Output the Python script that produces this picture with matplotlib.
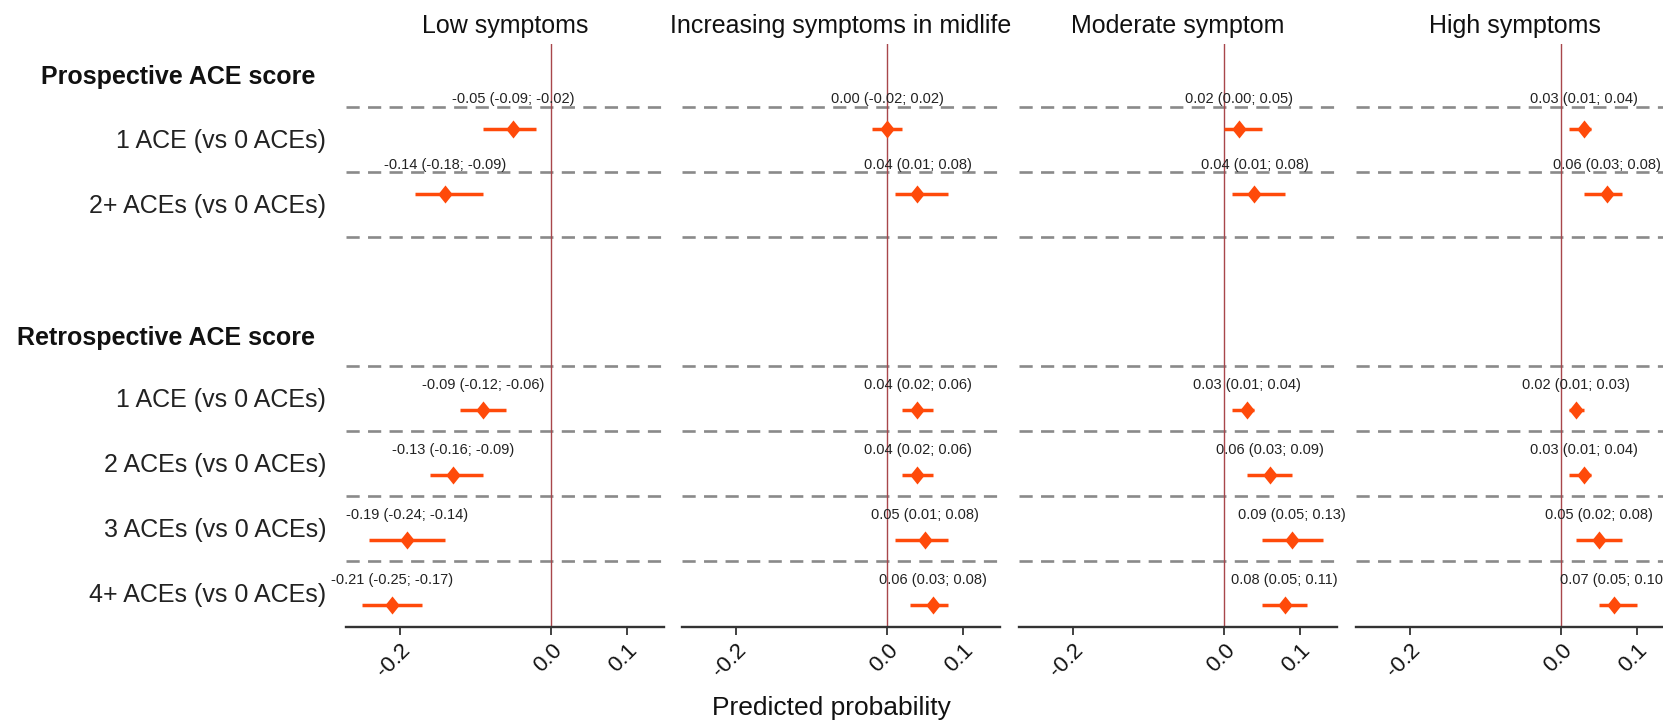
import matplotlib
matplotlib.use("Agg")
import matplotlib.pyplot as plt
from matplotlib.path import Path

plt.rcParams['font.family'] = ['Liberation Sans', 'DejaVu Sans']
plt.rcParams['lines.scale_dashes'] = False

# ---------------- data ----------------
panels = ["Low symptoms", "Increasing symptoms in midlife", "Moderate symptom", "High symptoms"]
pro_heading = "Prospective ACE score"
retro_heading = "Retrospective ACE score"
pro_labels = ["1 ACE (vs 0 ACEs)", "2+ ACEs (vs 0 ACEs)"]
retro_labels = ["1 ACE (vs 0 ACEs)", "2 ACEs (vs 0 ACEs)", "3 ACEs (vs 0 ACEs)", "4+ ACEs (vs 0 ACEs)"]

pro_est = [[-0.05, -0.14], [0.00, 0.04], [0.02, 0.04], [0.03, 0.06]]
pro_lo = [[-0.09, -0.18], [-0.02, 0.01], [0.00, 0.01], [0.01, 0.03]]
pro_hi = [[-0.02, -0.09], [0.02, 0.08], [0.05, 0.08], [0.04, 0.08]]

retro_est = [[-0.09, -0.13, -0.19, -0.21], [0.04, 0.04, 0.05, 0.06],
             [0.03, 0.06, 0.09, 0.08], [0.02, 0.03, 0.05, 0.07]]
retro_lo = [[-0.12, -0.16, -0.24, -0.25], [0.02, 0.02, 0.01, 0.03],
            [0.01, 0.03, 0.05, 0.05], [0.01, 0.01, 0.02, 0.05]]
retro_hi = [[-0.06, -0.09, -0.14, -0.17], [0.06, 0.06, 0.08, 0.08],
            [0.04, 0.09, 0.13, 0.11], [0.03, 0.04, 0.08, 0.10]]

xticks = [-0.2, 0.0, 0.1]
xtick_labels = ["-0.2", "0.0", "0.1"]
xlabel = "Predicted probability"

# ---------------- layout (pixels) ----------------
W, H, DPI = 1663, 723, 100
fig = plt.figure(figsize=(W / DPI, H / DPI), dpi=DPI)

AX_TOP, AX_BOT = 44, 627
PANEL_LEFT = [346, 682, 1019, 1356]
PANEL_W = 318
ROW = 65.0
PRO_DASH0 = 107
RETRO_DASH0 = 366

ORANGE = "#ff4a0a"
GREY = "#8a8a8a"
RED = "#a8464b"
DARK = "#333333"

diamond = Path([(0, 1), (0.8, 0), (0, -1), (-0.8, 0), (0, 1)],
               [Path.MOVETO, Path.LINETO, Path.LINETO, Path.LINETO, Path.CLOSEPOLY])


def fy(y):
    return 1 - y / H


def fx(x):
    return x / W


def fmt(e, lo, hi):
    return f"{e:.2f} ({lo:.2f}; {hi:.2f})"


pro_dash = [PRO_DASH0 + ROW * i for i in range(len(pro_labels) + 1)]
retro_dash = [RETRO_DASH0 + ROW * i for i in range(len(retro_labels))]

for p, title in enumerate(panels):
    left = PANEL_LEFT[p]
    ax = fig.add_axes([fx(left), fy(AX_BOT), PANEL_W / W, (AX_BOT - AX_TOP) / H])
    ax.set_xlim(-0.271, 0.149)
    ax.set_ylim(AX_BOT, AX_TOP)
    for s in ["top", "left", "right"]:
        ax.spines[s].set_visible(False)
    ax.spines["bottom"].set_color(DARK)
    ax.spines["bottom"].set_linewidth(1.7)
    ax.set_yticks([])
    ax.set_xticks(xticks)
    ax.set_xticklabels(xtick_labels, rotation=45, ha="right", va="top",
                       rotation_mode="anchor", fontsize=16, color="#111111")
    ax.tick_params(axis="x", length=6, width=1.3, color=DARK, pad=3)
    ax.patch.set_alpha(0)

    # dashed separators
    for y in pro_dash + retro_dash:
        ax.axhline(y, color=GREY, lw=1.9, dashes=(9.5, 6), zorder=1)
    ax.axvline(0, color=RED, lw=1.0, zorder=2)

    # prospective
    for i in range(len(pro_labels)):
        d = pro_dash[i]
        e, lo, hi = pro_est[p][i], pro_lo[p][i], pro_hi[p][i]
        yp = d + 21.5
        ax.hlines(yp, lo, hi, color=ORANGE, lw=2.5, zorder=3)
        ax.plot([e], [yp], marker=diamond, ms=13, color=ORANGE, mew=0, zorder=4)
        ax.text(e, d - 3.5, fmt(e, lo, hi), ha="center", va="baseline",
                fontsize=10.5, color="#222222", zorder=5)

    # retrospective
    for i in range(len(retro_labels)):
        d = retro_dash[i]
        e, lo, hi = retro_est[p][i], retro_lo[p][i], retro_hi[p][i]
        yp = d + 44
        ax.hlines(yp, lo, hi, color=ORANGE, lw=2.5, zorder=3)
        ax.plot([e], [yp], marker=diamond, ms=13, color=ORANGE, mew=0, zorder=4)
        ax.text(e, d + 23, fmt(e, lo, hi), ha="center", va="baseline",
                fontsize=10.5, color="#222222", zorder=5)

    fig.text(fx(left + PANEL_W / 2), fy(33), title, ha="center", va="baseline",
             fontsize=18, color="#111111")

# row labels & headings
fig.text(fx(315), fy(84), pro_heading, ha="right", va="baseline", fontsize=18,
         fontweight="bold", color="#111111")
fig.text(fx(315), fy(345), retro_heading, ha="right", va="baseline", fontsize=18,
         fontweight="bold", color="#111111")
for i, lab in enumerate(pro_labels):
    fig.text(fx(326), fy(pro_dash[i] + 41), lab, ha="right", va="baseline",
             fontsize=18, color="#222222")
for i, lab in enumerate(retro_labels):
    fig.text(fx(326), fy(retro_dash[i] + 41), lab, ha="right", va="baseline",
             fontsize=18, color="#222222")

fig.text(0.5, fy(715), xlabel, ha="center", va="baseline", fontsize=19, color="#111111")

fig.savefig("out.png", dpi=DPI)
